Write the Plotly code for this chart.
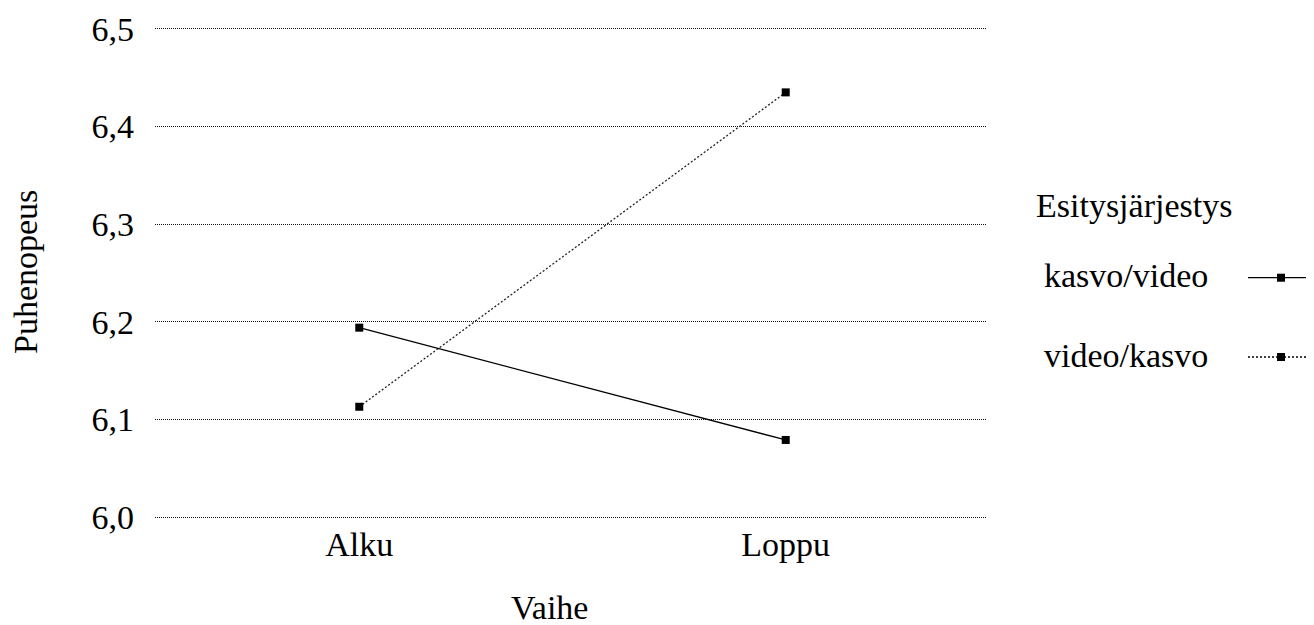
import plotly.graph_objects as go

categories = ["Alku", "Loppu"]
kasvo_video = [6.194, 6.079]
video_kasvo = [6.113, 6.435]
series_names = ["kasvo/video", "video/kasvo"]
y_ticks = [6.0, 6.1, 6.2, 6.3, 6.4, 6.5]

FONT = "Liberation Serif, Times New Roman, serif"
FS = 34

fig = go.Figure()
fig.add_trace(go.Scatter(
    x=categories, y=kasvo_video, mode="lines+markers", name=series_names[0],
    line=dict(color="black", width=1.3),
    marker=dict(symbol="square", size=8, color="black"),
    showlegend=False,
))
fig.add_trace(go.Scatter(
    x=categories, y=video_kasvo, mode="lines+markers", name=series_names[1],
    line=dict(color="#222", width=1.3, dash="2px,2px"),
    marker=dict(symbol="square", size=8, color="black"),
    showlegend=False,
))

fig.update_layout(
    width=1306, height=617,
    margin=dict(l=147, r=327, t=17, b=104, autoexpand=False),
    paper_bgcolor="white", plot_bgcolor="white",
    separators=", ",
    font=dict(family=FONT, size=FS, color="black"),
    showlegend=False,
)
fig.update_xaxes(
    type="category", range=[-0.479, 1.472], automargin=False,
    showgrid=False, showline=False, zeroline=False,
    ticks="", tickfont=dict(family=FONT, size=FS, color="black"),
)
fig.update_yaxes(
    range=[5.996, 6.504], tickvals=y_ticks, tickformat=".1f", automargin=False,
    showgrid=True, gridcolor="#111", gridwidth=1, griddash="1px,1px",
    showline=False, zeroline=False, ticks="",
    ticklabelstandoff=20,
    tickfont=dict(family=FONT, size=FS, color="black"),
)

# axis titles
fig.add_annotation(text="Vaihe", xref="paper", yref="paper", x=0.4736, y=-0.1754,
                   showarrow=False, xanchor="center", yanchor="middle",
                   font=dict(family=FONT, size=FS, color="black"))
fig.add_annotation(text="Puhenopeus", xref="paper", yref="paper", x=-0.1563, y=0.502,
                   showarrow=False, xanchor="center", yanchor="middle", textangle=-90,
                   font=dict(family=FONT, size=FS, color="black"))

# legend (drawn manually: labels on the left, samples on the right)
fig.add_annotation(text="Esitysjärjestys", xref="paper", yref="paper", x=1.0565, y=0.637,
                   showarrow=False, xanchor="left", yanchor="middle",
                   font=dict(family=FONT, size=FS, color="black"))
leg_y = [0.4905, 0.3306]
dashes = ["solid", "2px,2px"]
for name, yy, dsh in zip(series_names, leg_y, dashes):
    fig.add_annotation(text=name, xref="paper", yref="paper", x=1.0661, y=yy + 0.004,
                       showarrow=False, xanchor="left", yanchor="middle",
                       font=dict(family=FONT, size=FS, color="black"))
    fig.add_shape(type="line", xref="paper", yref="paper", x0=1.3137, x1=1.40, y0=yy, y1=yy,
                  line=dict(color="black", width=1.3, dash=dsh))
    fig.add_shape(type="rect", xref="paper", yref="paper", xsizemode="pixel", ysizemode="pixel",
                  xanchor=1.3534, yanchor=yy, x0=-4, x1=4, y0=-4, y1=4,
                  fillcolor="black", line=dict(width=0))

fig.write_html("out.html")
